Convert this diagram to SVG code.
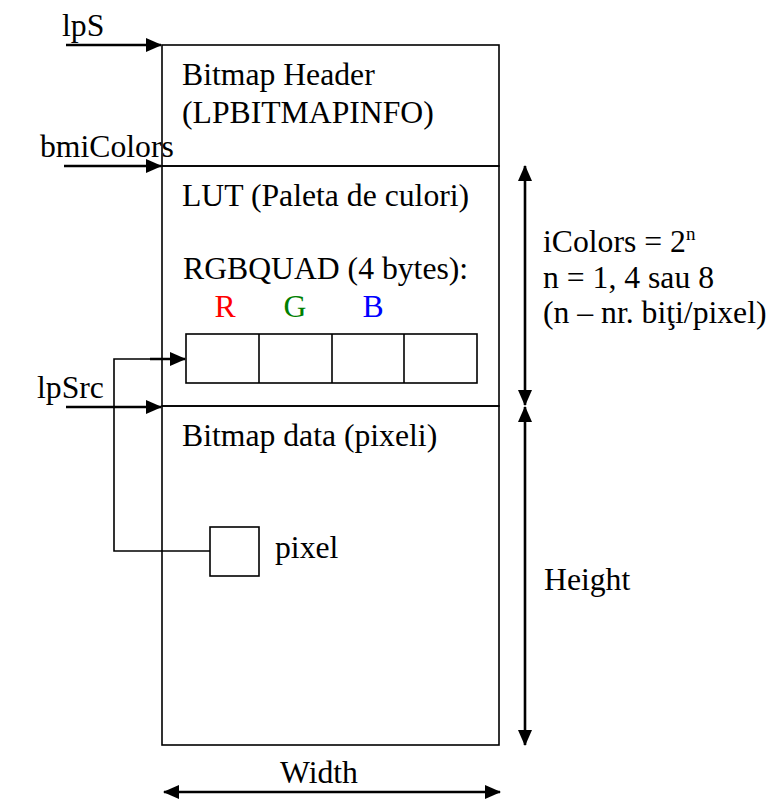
<svg xmlns="http://www.w3.org/2000/svg" width="776" height="799" viewBox="0 0 776 799" font-family="Liberation Serif, Times New Roman, serif" font-size="31.7">
<style>
.box{fill:none;stroke:#000;stroke-width:1.6}
.ln{fill:none;stroke:#000;stroke-width:1.6}
.ar{fill:none;stroke:#000;stroke-width:2.6}
</style>
<defs>
<marker id="ah" markerUnits="userSpaceOnUse" markerWidth="16" markerHeight="14" refX="15" refY="7" orient="auto-start-reverse" viewBox="0 0 16 14">
<path d="M0,0 L16,7 L0,14 Z" fill="#000"/>
</marker>
</defs>
<rect width="776" height="799" fill="#fff"/>
<g id="header">
<rect class="box" x="162" y="45" width="337" height="121"/>
<text x="182" y="85">Bitmap Header</text>
<text x="182" y="123">(LPBITMAPINFO)</text>
</g>
<g id="lut">
<rect class="box" x="162" y="166" width="337" height="240"/>
<text x="182" y="206">LUT (Paleta de culori)</text>
<text x="183" y="279">RGBQUAD (4 bytes):</text>
<text x="225" y="317" text-anchor="middle" fill="#ff0000">R</text>
<text x="295" y="317" text-anchor="middle" fill="#008000">G</text>
<text x="373" y="317" text-anchor="middle" fill="#0000ff">B</text>
</g>
<g id="rgbquad">
<rect class="box" x="186" y="334" width="291" height="49"/>
<line class="ln" x1="259" y1="334" x2="259" y2="383"/>
<line class="ln" x1="332" y1="334" x2="332" y2="383"/>
<line class="ln" x1="404" y1="334" x2="404" y2="383"/>
</g>
<g id="data">
<rect class="box" x="162" y="406" width="337" height="339"/>
<text x="182" y="446">Bitmap data (pixeli)</text>
</g>
<g id="pixel">
<rect class="box" x="210" y="527" width="49" height="49"/>
<text x="275" y="558">pixel</text>
</g>
<g id="labels">
<text x="62" y="36">lpS</text>
<text x="40" y="157">bmiColors</text>
<text x="37" y="398">lpSrc</text>
<text x="543" y="252">iColors = 2<tspan font-size="19" dy="-12">n</tspan></text>
<text x="543" y="288">n = 1, 4 sau 8</text>
<text x="543" y="323">(n – nr. biţi/pixel)</text>
<text x="544" y="590">Height</text>
<text x="280" y="783">Width</text>
</g>
<g id="connectors">
<line class="ar" x1="66" y1="45" x2="161" y2="45" marker-end="url(#ah)"/>
<line class="ar" x1="64" y1="166" x2="161" y2="166" marker-end="url(#ah)"/>
<line class="ar" x1="66" y1="407" x2="161" y2="407" marker-end="url(#ah)"/>
<polyline class="ln" points="210,551 114,551 114,359 170,359"/>
<line class="ar" x1="150" y1="359" x2="185" y2="359" marker-end="url(#ah)"/>
<line class="ar" x1="525" y1="166" x2="525" y2="405" marker-start="url(#ah)" marker-end="url(#ah)"/>
<line class="ar" x1="525" y1="407" x2="525" y2="745" marker-start="url(#ah)" marker-end="url(#ah)"/>
<line class="ar" x1="164" y1="792" x2="500" y2="792" marker-start="url(#ah)" marker-end="url(#ah)"/>
</g>
</svg>
